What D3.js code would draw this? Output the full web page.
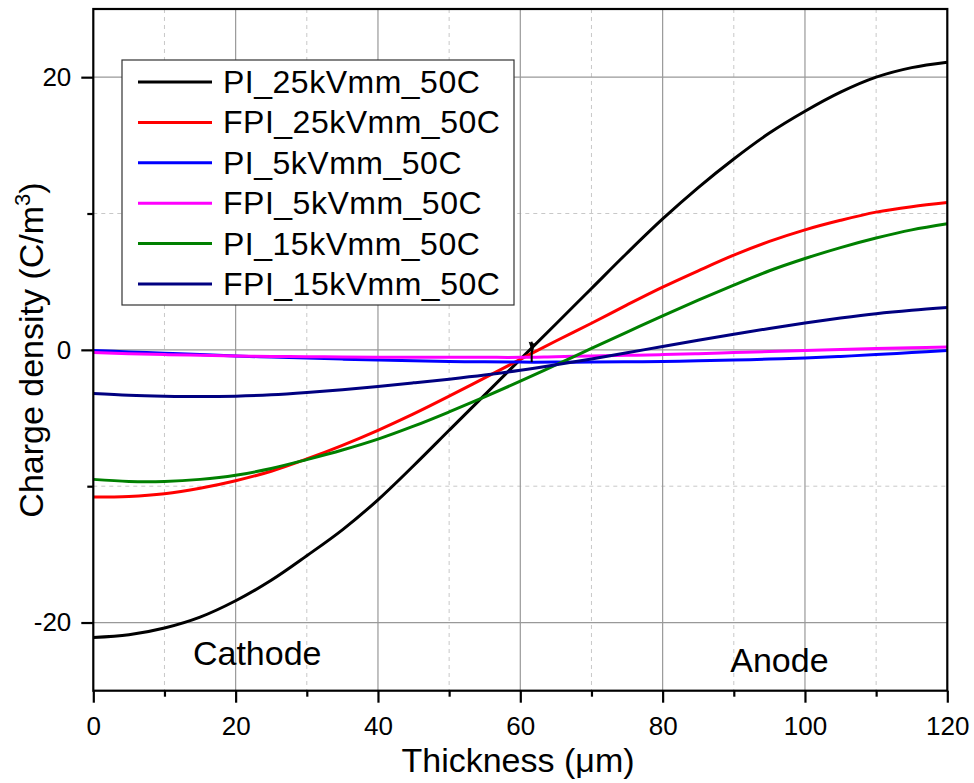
<!DOCTYPE html>
<html><head><meta charset="utf-8">
<script src="https://cdn.jsdelivr.net/npm/d3@7"></script>
<style>body{margin:0;background:#fff}svg{display:block}text{font-family:"Liberation Sans",Arial,sans-serif}</style>
</head><body><svg id="c" width="974" height="783"></svg>
<script>
const thickness = [0,5,10,15,20,25,30,35,40,45,50,55,60,65,70,75,80,85,90,95,100,105,110,115,120];
const PI_25  = [-21.1,-20.9,-20.4,-19.6,-18.4,-16.9,-15.1,-13.2,-11.0,-8.5,-5.9,-3.3,-0.7,1.9,4.5,7.1,9.6,11.9,14.0,15.9,17.5,18.9,20.0,20.7,21.1];
const FPI_25 = [-10.8,-10.75,-10.55,-10.15,-9.6,-8.9,-8.0,-7.0,-5.9,-4.7,-3.4,-2.05,-0.7,0.65,1.95,3.3,4.6,5.8,6.95,7.95,8.8,9.5,10.1,10.5,10.8];
const PI_5   = [-0.05,-0.15,-0.25,-0.35,-0.45,-0.53,-0.6,-0.68,-0.75,-0.8,-0.85,-0.88,-0.9,-0.9,-0.9,-0.88,-0.85,-0.8,-0.75,-0.68,-0.6,-0.48,-0.35,-0.2,-0.05];
const FPI_5  = [-0.2,-0.28,-0.35,-0.4,-0.45,-0.48,-0.5,-0.53,-0.55,-0.55,-0.55,-0.55,-0.55,-0.5,-0.45,-0.4,-0.35,-0.28,-0.2,-0.12,-0.05,0.03,0.1,0.15,0.2];
const PI_15  = [-9.5,-9.65,-9.65,-9.5,-9.2,-8.7,-8.05,-7.35,-6.55,-5.6,-4.55,-3.45,-2.3,-1.1,0.1,1.3,2.5,3.65,4.75,5.8,6.7,7.5,8.2,8.8,9.25];
const FPI_15 = [-3.2,-3.33,-3.4,-3.43,-3.4,-3.3,-3.13,-2.92,-2.68,-2.42,-2.15,-1.85,-1.5,-1.1,-0.67,-0.22,0.25,0.7,1.14,1.57,1.97,2.33,2.65,2.9,3.1];
const seriesNames = ["PI_25kVmm_50C","FPI_25kVmm_50C","PI_5kVmm_50C","FPI_5kVmm_50C","PI_15kVmm_50C","FPI_15kVmm_50C"];
const seriesValues = [PI_25, FPI_25, PI_5, FPI_5, PI_15, FPI_15];
const seriesColors = ["#000000","#ff0000","#0000ff","#ff00ff","#008000","#000080"];
const xMajorTicks = [0,20,40,60,80,100,120];
const xMinorTicks = [10,30,50,70,90,110];
const yMajorTicks = [-20,0,20];
const yMinorTicks = [-10,10];
const annotations = [{text:"Cathode", x:14, y:-23.15}, {text:"Anode", x:89.5, y:-23.65}];
const arrowPt = {x:61.6, y0:0.6, y1:-0.9};

const svg = d3.select("#c");
const L=93.3, R=947.3, T=9, B=690.7;
const x = d3.scaleLinear().domain([0,120]).range([L,R]);
const y = d3.scaleLinear().domain([-25,25]).range([B,T]);

// grid
const g = svg.append("g");
g.selectAll(".gxm").data(xMinorTicks).join("line").attr("x1",d=>x(d)).attr("x2",d=>x(d)).attr("y1",T).attr("y2",B)
 .attr("stroke","#c8c8c8").attr("stroke-dasharray","4,4").attr("stroke-width",1);
g.selectAll(".gym").data(yMinorTicks).join("line").attr("y1",d=>y(d)).attr("y2",d=>y(d)).attr("x1",L).attr("x2",R)
 .attr("stroke","#c8c8c8").attr("stroke-dasharray","4,4").attr("stroke-width",1);
g.selectAll(".gx").data(xMajorTicks.filter(d=>d>0&&d<120)).join("line").attr("x1",d=>x(d)).attr("x2",d=>x(d)).attr("y1",T).attr("y2",B)
 .attr("stroke","#999").attr("stroke-width",1.2);
g.selectAll(".gy").data(yMajorTicks).join("line").attr("y1",d=>y(d)).attr("y2",d=>y(d)).attr("x1",L).attr("x2",R)
 .attr("stroke","#999").attr("stroke-width",1.2);

// curves
const line = d3.line().x(d=>x(d[0])).y(d=>y(d[1])).curve(d3.curveCatmullRom.alpha(0.5));
seriesValues.forEach((vals,i)=>{
  svg.append("path").datum(thickness.map((t,j)=>[t,vals[j]])).attr("d",line)
    .attr("fill","none").attr("stroke",seriesColors[i]).attr("stroke-width",3);
});

// arrow
svg.append("line").attr("x1",x(arrowPt.x)).attr("x2",x(arrowPt.x)).attr("y1",y(arrowPt.y0)).attr("y2",y(arrowPt.y1))
  .attr("stroke","#000").attr("stroke-width",2);
svg.append("path").attr("d",`M${x(arrowPt.x)-3},${y(arrowPt.y0)} L${x(arrowPt.x)+3},${y(arrowPt.y0)+2} L${x(arrowPt.x)+1},${y(arrowPt.y0)+12} Z`).attr("fill","#000");

// frame
svg.append("rect").attr("x",L).attr("y",T).attr("width",R-L).attr("height",B-T).attr("fill","none").attr("stroke","#000").attr("stroke-width",2.2);

// axes
const xa = svg.append("g").attr("transform",`translate(0,${B})`)
  .call(d3.axisBottom(x).tickValues(xMajorTicks).tickSize(12).tickPadding(14).tickFormat(d3.format("d")));
const xm = svg.append("g").attr("transform",`translate(0,${B})`)
  .call(d3.axisBottom(x).tickValues(xMinorTicks).tickSize(6).tickFormat(""));
const ya = svg.append("g").attr("transform",`translate(${L},0)`)
  .call(d3.axisLeft(y).tickValues(yMajorTicks).tickSize(12).tickPadding(10).tickFormat(d=>d<0?"-"+Math.abs(d):d));
const ym = svg.append("g").attr("transform",`translate(${L},0)`)
  .call(d3.axisLeft(y).tickValues(yMinorTicks).tickSize(6).tickFormat(""));
[xa,xm,ya,ym].forEach(a=>{
  a.select(".domain").remove();
  a.selectAll(".tick line").attr("stroke","#000").attr("stroke-width",2.2);
  a.selectAll("text").attr("fill","#000").style("font-size","26px").style("font-family",'"Liberation Sans",Arial,sans-serif');
});

// axis titles
const xt = svg.append("text").attr("x",518).attr("y",772).attr("text-anchor","middle").style("font-size","34px");
xt.append("tspan").text("Thickness (");
xt.append("tspan").text("μ");
xt.append("tspan").text("m)");
const yt = svg.append("text").attr("transform","translate(43,350) rotate(-90)").attr("text-anchor","middle").style("font-size","34px");
yt.append("tspan").text("Charge density (C/m");
yt.append("tspan").attr("dy",-13).style("font-size","22px").text("3");
yt.append("tspan").attr("dy",13).text(")");

// annotations
annotations.forEach(a=>{
  svg.append("text").attr("x",x(a.x)).attr("y",y(a.y)).style("font-size","34px").text(a.text);
});

// legend
const lg = svg.append("g");
lg.append("rect").attr("x",122).attr("y",60).attr("width",392).attr("height",245).attr("fill","#fff").attr("stroke","#333").attr("stroke-width",1.2);
seriesNames.forEach((n,i)=>{
  const yy = 82 + i*40.4;
  lg.append("line").attr("x1",138).attr("x2",212).attr("y1",yy).attr("y2",yy).attr("stroke",seriesColors[i]).attr("stroke-width",3);
  lg.append("text").attr("x",223).attr("y",yy+11).style("font-size","32px").style("letter-spacing","0.5px").text(n);
});
</script></body></html>
